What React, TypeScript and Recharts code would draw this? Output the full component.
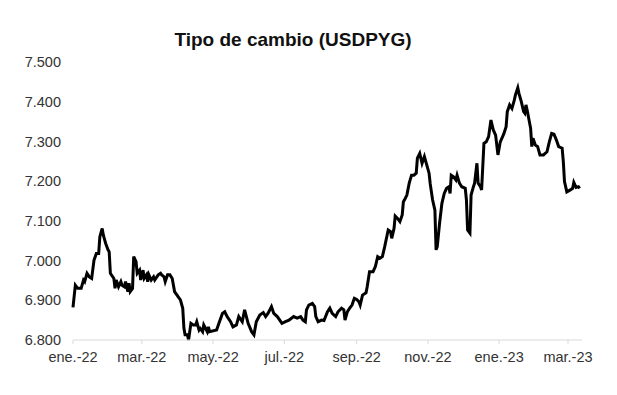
import React from 'react'
import { LineChart, Line, XAxis, YAxis } from 'recharts'

// days counted from 1 Jan 2022
const dayOffsets = [
  0, 2, 4, 7, 9, 10, 12, 14, 16, 18, 20, 22, 23, 25, 26, 28, 30, 31, 32, 35,
  36, 37, 39, 41, 42, 44, 45, 47, 48, 49, 51, 52, 54, 55, 57, 58, 60, 61, 63, 64,
  65, 67, 69, 70, 73, 75, 76, 78, 79, 81, 83, 85, 87, 90, 92, 94, 95, 96, 98, 99,
  101, 103, 105, 106, 108, 109, 111, 112, 115, 116, 117, 123, 125, 128, 130, 132, 135, 137, 140, 142,
  145, 147, 150, 153, 155, 157, 160, 163, 165, 167, 170, 172, 175, 179, 182, 185, 189, 192, 195, 197,
  199, 200, 202, 205, 207, 208, 210, 213, 215, 218, 220, 222, 225, 227, 230, 232, 233, 235, 237, 239,
  241, 243, 245, 246, 248, 251, 252, 254, 257, 259, 261, 263, 265, 267, 270, 272, 273, 275, 276, 278,
  280, 282, 283, 284, 286, 288, 290, 292, 294, 295, 297, 299, 301, 303, 305, 306, 308, 310, 311, 312,
  314, 316, 318, 320, 322, 323, 324, 326, 328, 329, 331, 333, 336, 337, 338, 340, 341, 343, 344, 346,
  347, 349, 350, 352, 354, 356, 358, 360, 362, 364, 366, 369, 371, 372, 374, 376, 378, 379, 381, 382,
  384, 386, 387, 388, 389, 392, 393, 394, 396, 398, 400, 403, 406, 408, 410, 412, 414, 416, 419, 420,
  421, 423, 426, 428, 429, 431, 433, 434,
]

const rates = [
  6882, 6938, 6930, 6930, 6951, 6947, 6968, 6959, 6955, 7001, 7018, 7018, 7060, 7081, 7064, 7043, 7027, 7022, 6968, 6955,
  6930, 6951, 6934, 6947, 6938, 6934, 6947, 6922, 6943, 6922, 6930, 7010, 6997, 6968, 6976, 6951, 6976, 6955, 6964, 6947,
  6964, 6951, 6959, 6951, 6964, 6968, 6964, 6959, 6947, 6964, 6964, 6955, 6922, 6909, 6901, 6880, 6830, 6813, 6813, 6800,
  6842, 6838, 6838, 6846, 6825, 6829, 6821, 6838, 6821, 6833, 6821, 6825, 6842, 6867, 6871, 6859, 6846, 6833, 6838, 6859,
  6846, 6876, 6842, 6821, 6813, 6846, 6863, 6869, 6859, 6867, 6884, 6867, 6859, 6842, 6846, 6850, 6859, 6855, 6859, 6850,
  6846, 6876, 6888, 6892, 6884, 6859, 6846, 6850, 6849, 6871, 6880, 6867, 6859, 6871, 6880, 6876, 6850, 6871, 6880, 6888,
  6905, 6902, 6896, 6888, 6913, 6919, 6934, 6972, 6972, 6985, 7010, 7006, 7010, 7035, 7077, 7073, 7056, 7081, 7112, 7106,
  7098, 7115, 7148, 7153, 7165, 7195, 7215, 7215, 7220, 7258, 7270, 7245, 7262, 7241, 7220, 7193, 7153, 7127, 7027, 7035,
  7094, 7144, 7169, 7182, 7186, 7169, 7215, 7211, 7203, 7215, 7195, 7186, 7182, 7153, 7077, 7069, 7165, 7186, 7195, 7245,
  7195, 7186, 7178, 7295, 7299, 7312, 7354, 7329, 7316, 7266, 7299, 7319, 7337, 7375, 7392, 7383, 7404, 7417, 7435, 7421,
  7400, 7375, 7371, 7392, 7379, 7333, 7287, 7308, 7291, 7287, 7266, 7266, 7274, 7299, 7320, 7318, 7304, 7287, 7283, 7249,
  7199, 7173, 7178, 7182, 7197, 7184, 7186, 7182,
]

const monthTicks = [0, 59, 120, 181, 243, 304, 365, 424]
const monthLabels = ['ene.-22', 'mar.-22', 'may.-22', 'jul.-22', 'sep.-22', 'nov.-22', 'ene.-23', 'mar.-23']
const rateTicks = [6800, 6900, 7000, 7100, 7200, 7300, 7400, 7500]

const data = dayOffsets.map((d, i) => ({ day: d, rate: rates[i] }))

const font = '"Liberation Sans", Arial, sans-serif'

function fmtRate(v: number) {
  const s = String(Math.round(v))
  return s.slice(0, s.length - 3) + '.' + s.slice(-3)
}

function fmtMonth(v: number) {
  const i = monthTicks.indexOf(v)
  return i >= 0 ? monthLabels[i] : ''
}

export default function App() {
  return (
    <div style={{ position: 'relative', width: 600, height: 387, fontFamily: font, background: '#fff' }}>
      <div
        style={{
          position: 'absolute',
          top: 21,
          left: 0,
          width: 570,
          textAlign: 'center',
          fontSize: 19,
          lineHeight: '22px',
          fontWeight: 'bold',
          color: '#111',
        }}
      >
        Tipo de cambio (USDPYG)
      </div>
      <LineChart width={600} height={387} data={data} margin={{ top: 54, right: 26, bottom: 25, left: 0 }}>
        <XAxis
          dataKey="day"
          type="number"
          domain={[0, 436]}
          ticks={monthTicks}
          tickFormatter={fmtMonth}
          height={30}
          axisLine={{ stroke: '#d9d9d9' }}
          tickLine={{ stroke: '#d9d9d9' }}
          tickSize={4}
          tickMargin={8}
          tick={{ fill: '#333', fontSize: 14.5, fontFamily: font }}
          interval={0}
        />
        <YAxis
          domain={[6800, 7500]}
          ticks={rateTicks}
          tickFormatter={fmtRate}
          width={65}
          axisLine={false}
          tickLine={false}
          tickMargin={6}
          tick={{ fill: '#333', fontSize: 14.5, fontFamily: font }}
          interval={0}
        />
        <Line
          type="linear"
          dataKey="rate"
          stroke="#000"
          strokeWidth={3}
          dot={false}
          isAnimationActive={false}
        />
      </LineChart>
    </div>
  )
}
